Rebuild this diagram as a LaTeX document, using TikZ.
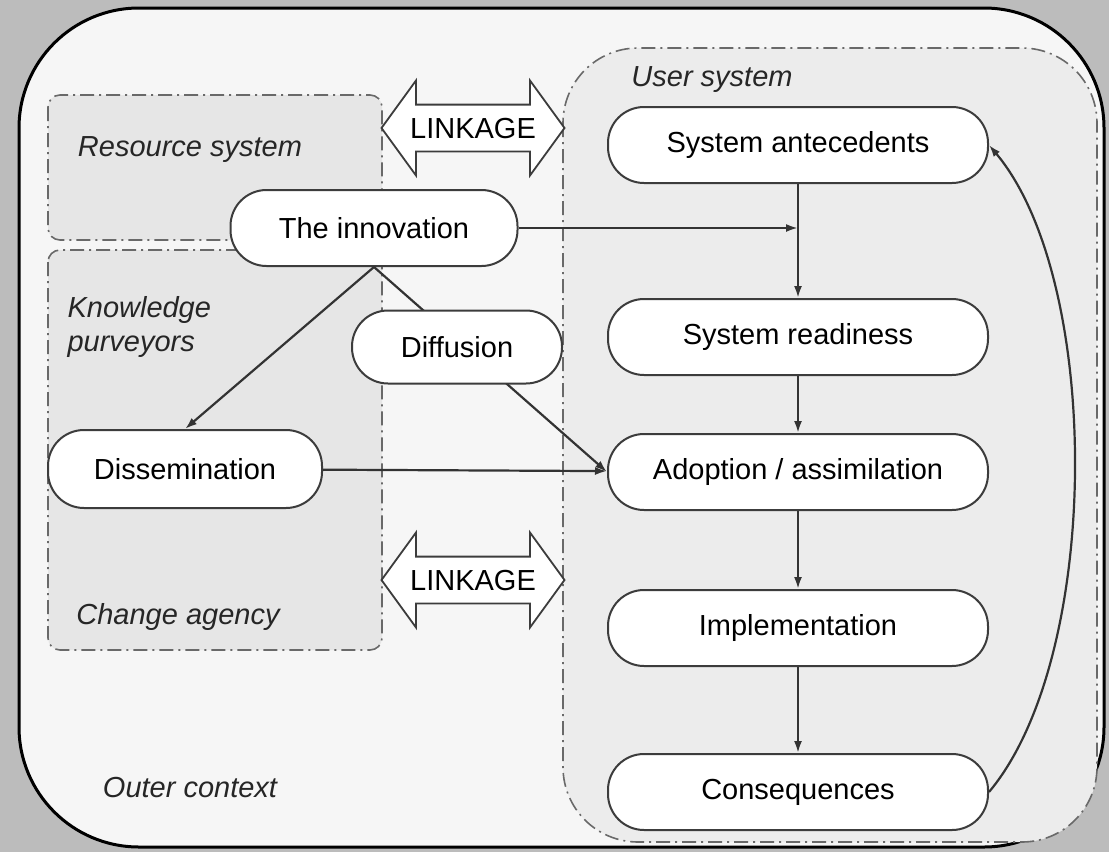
\documentclass[tikz,border=0pt]{standalone}
\usepackage{fontspec}
\setmainfont{Liberation Sans}
\usetikzlibrary{arrows.meta,positioning,shapes.arrows}
\definecolor{pagegrey}{RGB}{188,188,188}
\definecolor{ctxfill}{RGB}{246,246,246}
\definecolor{boxfill}{RGB}{230,230,230}
\definecolor{userfill}{RGB}{236,236,236}
\definecolor{edgegrey}{RGB}{60,60,60}
\definecolor{dashgrey}{RGB}{105,105,105}
\tikzset{
  stage/.style     = {rectangle, rounded corners=36pt, draw=edgegrey, fill=white,
                      line width=2pt, minimum height=76pt, align=center,
                      font=\fontsize{29}{34}\selectfont},
  colstage/.style  = {stage, minimum width=380pt},
  region/.style    = {draw=dashgrey, line width=1.6pt,
                      dash pattern=on 14pt off 5pt on 2pt off 5pt},
  zonelabel/.style = {font=\fontsize{29}{34}\selectfont\itshape, text=black!85,
                      align=left},
  link/.style      = {double arrow, draw=edgegrey, fill=white, line width=1.8pt,
                      double arrow head extend=24pt, double arrow tip angle=108,
                      minimum height=183pt, inner xsep=-7pt, inner ysep=12pt,
                      text height=21pt, text depth=0pt,
                      font=\fontsize{29}{34}\selectfont},
  arr/.style       = {-{Latex[length=12pt,width=8pt]}, line width=2.2pt, draw=black!80},
}
\begin{document}
\begin{tikzpicture}[x=1pt, y=-1pt]

\fill[pagegrey] (0,0) rectangle (1109,852);
\useasboundingbox (0,0) rectangle (1109,852);

% outer context
\draw[fill=ctxfill, line width=3pt, rounded corners=120pt] (19,8) rectangle (1104,847);

% resource system, purveyors / change agency, user system
\draw[region, fill=boxfill, rounded corners=12pt] (48,95) rectangle (382,240);
\draw[region, fill=boxfill, rounded corners=12pt] (48,250) rectangle (382,650);
\draw[region, fill=userfill, rounded corners=75pt] (563,48) rectangle (1097,842);

% zone labels
\node[zonelabel] (resLbl) at (190,150) {Resource system};
\node[zonelabel] (userLbl) at (712,80) {User system};
\node[zonelabel, anchor=west] (kpLbl) at (64,327) {Knowledge\\purveyors};
\node[zonelabel] (caLbl) at (178,617) {Change agency};
\node[zonelabel] (ocLbl) at (190,788) {Outer context};

% linkage arrows
\node[link] (linkTop) at (473,128) {LINKAGE};
\node[link] (linkBot) at (473,580) {LINKAGE};

% innovation side
\node[stage, minimum width=287pt] (innov) at (374,228) {The innovation};
\node[stage, minimum width=274pt, minimum height=78pt] (dissem) at (185,469) {Dissemination};

% user system column
\node[colstage] (sa) at (798,145) {System antecedents};
\node[colstage, below=114pt of sa] (sr) {System readiness};
\node[colstage, below=57pt of sr] (adopt) {Adoption / assimilation};
\node[colstage, below=78pt of adopt] (impl) {Implementation};
\node[colstage, below=86pt of impl] (cons) {Consequences};

\draw[arr] (sa) -- (sr);
\draw[arr] (sr) -- (adopt);
\draw[arr] (adopt) -- (impl);
\draw[arr] (impl) -- (cons);
\draw[arr] (innov.east) -- (innov.east -| sa.south);
\draw[arr] (innov.south) -- (dissem.north);
\draw[arr] (dissem) -- (adopt);
\draw[arr] (innov.south) -- (adopt.west);

% diffusion sits on the innovation -> adoption line
\node[stage, minimum width=210pt, minimum height=73pt] (diff) at (457,347) {Diffusion};

% feedback loop
\draw[arr] (cons.east) to[out=50, in=-50, looseness=0.7] (sa.east);

\end{tikzpicture}
\end{document}
